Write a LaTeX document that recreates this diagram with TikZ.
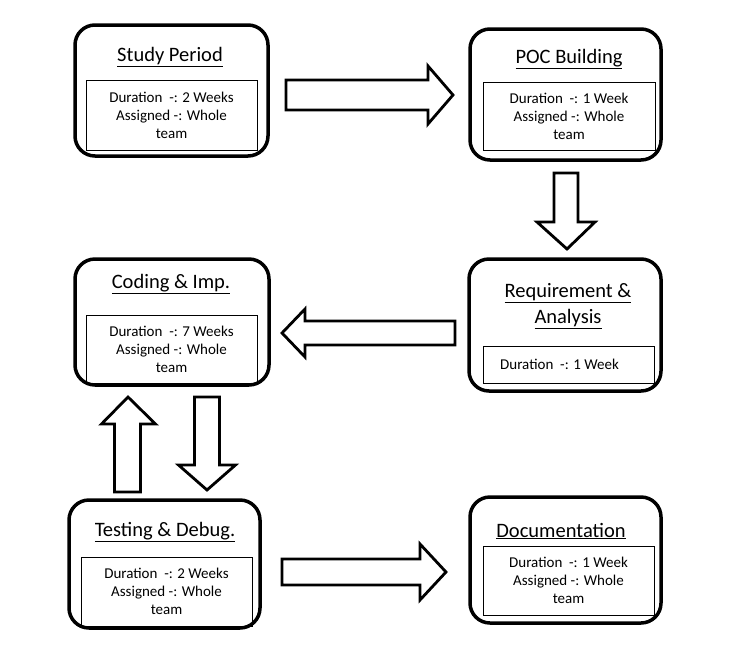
\documentclass[tikz,border=0pt]{standalone}
\usepackage{fontspec}
\setmainfont{Carlito}
\begin{document}
\begin{tikzpicture}[x=1pt,y=-1pt,
  outerbox/.style={draw=black,line width=3.5pt,rounded corners=20pt,minimum width=#1,inner sep=0pt},
  innerbox/.style={draw=black,line width=1pt,minimum width=171pt,inner sep=0pt},
  titletext/.style={font=\fontsize{20.5}{25}\selectfont,align=center,inner sep=0pt},
  bodytext/.style={font=\fontsize{15}{18}\selectfont,align=center,inner sep=0pt},
  blockarrow/.style={draw=black,fill=white,line width=2.8pt,line join=miter}]
\useasboundingbox (0,0) rectangle (730,662);
\fill[white] (0,0) rectangle (730,662);

% outer boxes
\node[outerbox=193pt,minimum height=131pt] (study) at (171.5,90.5) {};
\node[outerbox=191pt,minimum height=131pt] (poc) at (565.5,94.5) {};
\node[outerbox=192pt,minimum height=132pt] (req) at (565,325) {};
\node[outerbox=194pt,minimum height=126pt] (code) at (172,322) {};
\node[outerbox=191pt,minimum height=128pt] (test) at (164.5,564) {};
\node[outerbox=191pt,minimum height=126pt] (doc) at (565.5,560) {};

% inner boxes
\node[innerbox,minimum height=70pt] (studyin) at (171.5,115) {};
\node[innerbox,minimum width=172pt,minimum height=68pt] (pocin) at (569,116) {};
\node[innerbox,minimum height=37pt] (reqin) at (568.5,364.5) {};
\node[innerbox,minimum height=68pt] (codein) at (171.5,349) {};
\node[innerbox,minimum height=69pt] (testin) at (166.5,591.5) {};
\node[innerbox,minimum height=69pt] (docin) at (568.5,580.5) {};

% titles
\node[titletext] (studyt) at (170,57) {\underline{Study Period}};
\node[titletext] (poct) at (569,59) {\underline{POC Building}};
\node[titletext] (reqt) at (568,306) {\underline{Requirement \&}\\[1pt]\underline{Analysis}};
\node[titletext] (codet) at (171,284) {\underline{Coding \& Imp.}};
\node[titletext] (testt) at (165,532) {\underline{Testing \& Debug.}};
\node[titletext] (doct) at (561,531) {\underline{Documentation}};

% body texts
\node[bodytext] (studyb) at (studyin) {Duration ~-: 2 Weeks\\Assigned -: Whole\\team};
\node[bodytext] (pocb) at (pocin) {Duration ~-: 1 Week\\Assigned -: Whole\\team};
\node[bodytext,anchor=west] (reqb) at (500,364) {Duration ~-: 1 Week};
\node[bodytext] (codeb) at (codein) {Duration ~-: 7 Weeks\\Assigned -: Whole\\team};
\node[bodytext] (testb) at (testin) {Duration ~-: 2 Weeks\\Assigned -: Whole\\team};
\node[bodytext] (docb) at (docin) {Duration ~-: 1 Week\\Assigned -: Whole\\team};

% block arrows
% study -> poc
\draw[blockarrow] (286,80) -- (428,80) -- (428,66) -- (453,95) -- (428,124) -- (428,110) -- (286,110) -- cycle;
% poc -> req
\draw[blockarrow] (554,173) -- (578,173) -- (578,222) -- (595,222) -- (567,249) -- (537,222) -- (554,222) -- cycle;
% req -> code
\draw[blockarrow] (455,321) -- (305,321) -- (305,309) -- (282,333) -- (305,357) -- (305,345) -- (455,345) -- cycle;
% test -> code (up)
\draw[blockarrow] (114.5,492) -- (114.5,424) -- (101.5,424) -- (128,397) -- (155.5,424) -- (140.5,424) -- (140.5,492) -- cycle;
% code -> test (down)
\draw[blockarrow] (194.5,397) -- (219.5,397) -- (219.5,465) -- (235.5,465) -- (207,490) -- (178.5,465) -- (194.5,465) -- cycle;
% test -> doc
\draw[blockarrow] (282,559) -- (420,559) -- (420,544) -- (446,572) -- (420,600) -- (420,585) -- (282,585) -- cycle;
\end{tikzpicture}
\end{document}
